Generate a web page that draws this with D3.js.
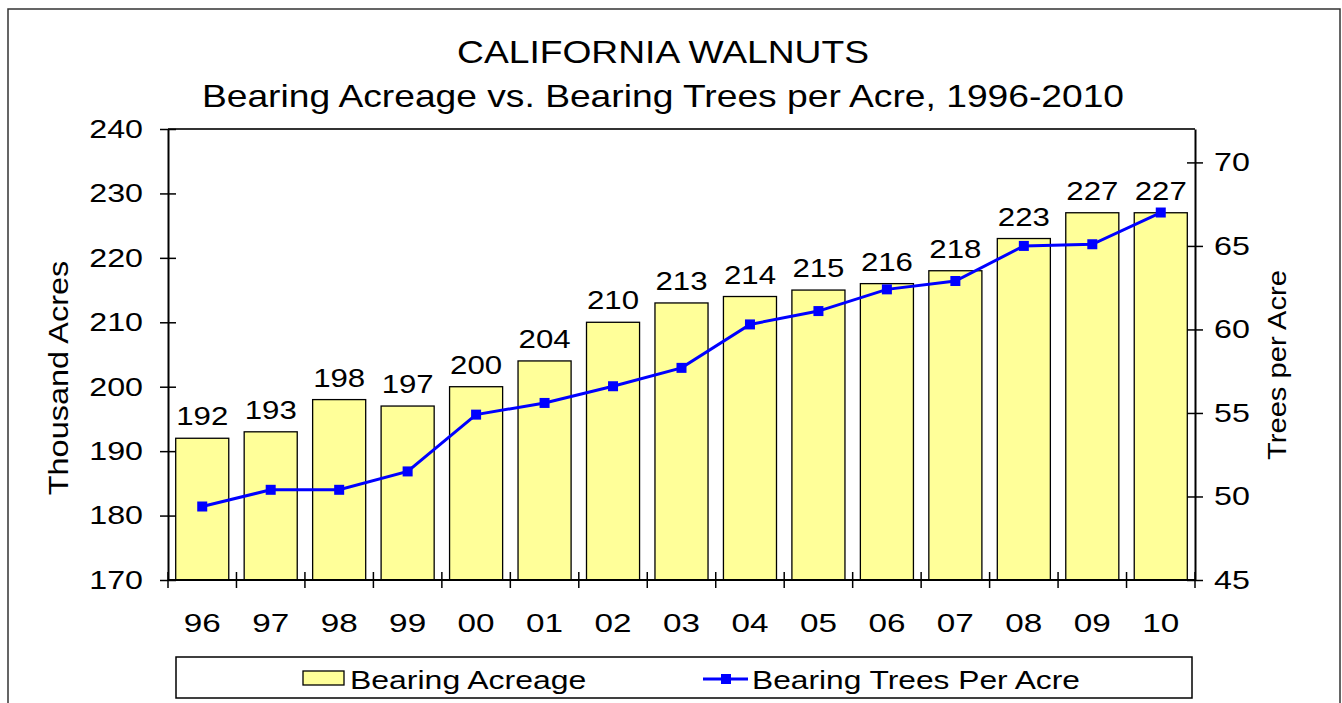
<!DOCTYPE html>
<html>
<head>
<meta charset="utf-8">
<script src="https://cdn.jsdelivr.net/npm/d3@7"></script>
<style>
  body { margin: 0; background: #fff; }
  text { font-family: Arial, "Liberation Sans", sans-serif; fill: #000; }
</style>
</head>
<body>
<div id="chart"></div>
<script>
// data
const years = ['96', '97', '98', '99', '00', '01', '02', '03', '04', '05', '06', '07', '08', '09', '10'];
const acreage = [192, 193, 198, 197, 200, 204, 210, 213, 214, 215, 216, 218, 223, 227, 227];
const treesPerAcre = [49.4, 50.4, 50.4, 51.5, 54.9, 55.6, 56.6, 57.7, 60.3, 61.1, 62.4, 62.9, 65.0, 65.1, 67.0];
const leftTicks = [170, 180, 190, 200, 210, 220, 230, 240];
const rightTicks = [45, 50, 55, 60, 65, 70];

const width = 1342;
const height = 703;
const margin = {top: 129, right: 147, bottom: 123, left: 168};
const SX = 1.24; // the reference text is drawn wide

const svg = d3.select('#chart')
  .append('svg')
  .attr('width', width)
  .attr('height', height);

// text helper: wide text at (x, y)
function wideText(parent, x, y, str, size, anchor, sx, rot) {
  return parent.append('text')
    .attr('transform', `translate(${x},${y})` + (rot ? ` rotate(${rot})` : '') + ` scale(${sx || SX},1)`)
    .attr('text-anchor', anchor || 'start')
    .attr('font-size', size + 'px')
    .text(str);
}

// outer frame
svg.append('rect')
  .attr('x', 8).attr('y', 9)
  .attr('width', 1332).attr('height', 720)
  .attr('fill', 'none')
  .attr('stroke', '#333')
  .attr('stroke-width', 1.5);

const x = d3.scaleBand()
  .domain(years)
  .range([margin.left, width - margin.right])
  .paddingInner(0.225)
  .paddingOuter(0.1125);

const xb = d3.scaleBand()
  .domain(years)
  .range([margin.left, width - margin.right]);

const yL = d3.scaleLinear()
  .domain([170, 240])
  .range([height - margin.bottom, margin.top]);

const yR = d3.scaleLinear()
  .domain([45, 72])
  .range([height - margin.bottom, margin.top]);

// plot area top border
svg.append('line')
  .attr('x1', margin.left).attr('x2', width - margin.right)
  .attr('y1', margin.top).attr('y2', margin.top)
  .attr('stroke', '#333').attr('stroke-width', 2);

// bars
svg.append('g')
  .selectAll('rect')
  .data(acreage)
  .join('rect')
    .attr('x', (d, i) => x(years[i]))
    .attr('y', d => yL(d))
    .attr('width', x.bandwidth())
    .attr('height', d => yL(170) - yL(d))
    .attr('fill', '#FFFF99')
    .attr('stroke', '#000')
    .attr('stroke-width', 1.3);

// bar labels
const barLabels = svg.append('g');
acreage.forEach((d, i) => {
  wideText(barLabels, x(years[i]) + x.bandwidth() / 2, yL(d) - 13, d, 26, 'middle', 1.2);
});

// line
const line = d3.line()
  .x((d, i) => x(years[i]) + x.bandwidth() / 2)
  .y(d => yR(d));

svg.append('path')
  .datum(treesPerAcre)
  .attr('d', line)
  .attr('fill', 'none')
  .attr('stroke', '#0000FF')
  .attr('stroke-width', 3);

svg.append('g')
  .selectAll('rect')
  .data(treesPerAcre)
  .join('rect')
    .attr('x', (d, i) => x(years[i]) + x.bandwidth() / 2 - 5)
    .attr('y', d => yR(d) - 5)
    .attr('width', 10)
    .attr('height', 10)
    .attr('fill', '#0000FF');

// axes
function styleAxis(g) {
  g.select('.domain').attr('stroke', '#000').attr('stroke-width', 2);
  g.selectAll('.tick line').attr('stroke', '#000').attr('stroke-width', 1.5);
  g.selectAll('.tick text').attr('font-size', '26px').attr('fill', '#000')
    .attr('font-family', 'Arial, "Liberation Sans", sans-serif')
    .attr('transform', `scale(${SX},1)`);
}

svg.append('g')
  .attr('transform', `translate(${margin.left},0)`)
  .call(d3.axisLeft(yL).tickValues(leftTicks).tickSizeOuter(0))
  .call(styleAxis)
  .call(g => g.selectAll('.tick line').attr('x2', -8).attr('x1', 8))
  .call(g => g.selectAll('.tick text').attr('x', -25 / SX));

svg.append('g')
  .attr('transform', `translate(${width - margin.right},0)`)
  .call(d3.axisRight(yR).tickValues(rightTicks).tickSizeOuter(0))
  .call(styleAxis)
  .call(g => g.selectAll('.tick line').attr('x1', -8).attr('x2', 8))
  .call(g => g.selectAll('.tick text').attr('x', 19 / SX));

// category axis: ticks at band boundaries
const xAxisG = svg.append('g')
  .attr('transform', `translate(0,${height - margin.bottom})`);
xAxisG.append('line')
  .attr('x1', margin.left).attr('x2', width - margin.right)
  .attr('stroke', '#000').attr('stroke-width', 2);
const bounds = years.map(d => xb(d)).concat([width - margin.right]);
xAxisG.selectAll('.bt')
  .data(bounds)
  .join('line')
    .attr('class', 'bt')
    .attr('x1', d => d).attr('x2', d => d)
    .attr('y1', -8).attr('y2', 8)
    .attr('stroke', '#000').attr('stroke-width', 1.5);
years.forEach(d => {
  wideText(xAxisG, xb(d) + xb.bandwidth() / 2, 52, d, 26, 'middle', 1.28);
});

// titles
wideText(svg, 663, 63, 'CALIFORNIA WALNUTS', 31, 'middle', 1.2);
wideText(svg, 663, 107, 'Bearing Acreage vs. Bearing Trees per Acre, 1996-2010', 31, 'middle', 1.2);

wideText(svg, 68, 378, 'Thousand Acres', 28, 'middle', 1.16, -90);
wideText(svg, 1286, 365, 'Trees per Acre', 26, 'middle', 1.12, -90);

// legend
const legend = svg.append('g');
legend.append('rect')
  .attr('x', 176).attr('y', 657)
  .attr('width', 1016).attr('height', 41)
  .attr('fill', '#fff')
  .attr('stroke', '#000')
  .attr('stroke-width', 1.5);
legend.append('rect')
  .attr('x', 303).attr('y', 671)
  .attr('width', 41).attr('height', 14)
  .attr('fill', '#FFFF99')
  .attr('stroke', '#000')
  .attr('stroke-width', 1.3);
wideText(legend, 350, 689, 'Bearing Acreage', 26, 'start', 1.23);
legend.append('line')
  .attr('x1', 703).attr('x2', 748)
  .attr('y1', 679).attr('y2', 679)
  .attr('stroke', '#0000FF').attr('stroke-width', 3);
legend.append('rect')
  .attr('x', 721).attr('y', 674)
  .attr('width', 10).attr('height', 10)
  .attr('fill', '#0000FF');
wideText(legend, 752, 689, 'Bearing Trees Per Acre', 26, 'start', 1.22);
</script>
</body>
</html>
